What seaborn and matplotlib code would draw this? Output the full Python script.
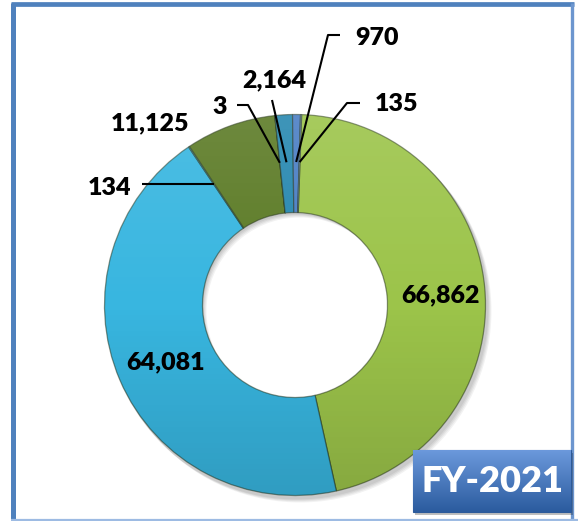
import numpy as np
import matplotlib
matplotlib.use("Agg")
import matplotlib.pyplot as plt
from matplotlib.patches import Wedge, Rectangle
import seaborn as sns

# ---- data ----
values = [66862, 64081, 134, 11125, 3, 2164, 970, 135]
labels = ["66,862", "64,081", "134", "11,125", "3", "2,164", "970", "135"]
colors = ["#9cc44a", "#38b6e0", "#4bacc6", "#5c7b26", "#8064a2",
          "#2788b0", "#4a7ec4", "#7fa7d9"]
badge_text = "FY-2021"

sns.set_style("white")
plt.rcParams['font.family'] = ['Lato', 'DejaVu Sans']

W, H = 578, 521
fig = plt.figure(figsize=(W / 100, H / 100), dpi=100)
ax = fig.add_axes([0, 0, 1, 1])

def Y(y):
    return H - y

cx, cy = 295, Y(305)
R, r_in = 190.5, 92.5

# soft shadow under the ring
for k, a in enumerate([0.06, 0.06, 0.05, 0.05]):
    sh = Wedge((cx + 2 + k, cy - 3 - k), R + 1, 0, 360, width=R - r_in,
               facecolor="black", alpha=a, edgecolor="none", zorder=1)
    ax.add_patch(sh)

wedges, _ = ax.pie(values, colors=colors, startangle=88, counterclock=False,
                   radius=R, center=(cx, cy), frame=True,
                   wedgeprops=dict(width=R - r_in, edgecolor=(0.12, 0.18, 0.08, 0.5),
                                   linewidth=0.9))
for w in wedges:
    w.set_zorder(2)

# gradient overlay (light top, darker bottom) clipped to the ring
ring = Wedge((cx, cy), R, 0, 360, width=R - r_in, facecolor="none",
             edgecolor="none")
ax.add_patch(ring)
grad = np.zeros((256, 2, 4))
t = np.linspace(0, 1, 256)[:, None]
grad[..., :3] = np.where(t[..., None] < 0.5, 1.0, 0.0)
grad[..., 3] = np.where(t < 0.5, (0.5 - t) * 0.22, (t - 0.5) * 0.28)
im = ax.imshow(grad, extent=(cx - R, cx + R, cy - R, cy + R), origin="upper",
               aspect="auto", zorder=3, interpolation="bilinear")
im.set_clip_path(ring)

def wpoint(i, r=143):
    w = wedges[i]
    a = np.deg2rad((w.theta1 + w.theta2) / 2)
    return cx + r * np.cos(a), cy + r * np.sin(a)

fs = 18
tkw = dict(fontsize=fs, fontweight="heavy", color="black", ha="center",
           va="center", zorder=6)

# inside labels
ax.text(440, Y(295), labels[0], **tkw)
ax.text(166, Y(362), labels[1], **tkw)
ax.text(150, Y(123), labels[3], **tkw)

lkw = dict(color="black", lw=1.5, zorder=5, solid_capstyle="butt")

# 134
px, py = wpoint(2, 145)
ax.text(110, Y(188), labels[2], **tkw)
ax.plot([142, px], [py, py], **lkw)

# 3
px, py = wpoint(4)
ax.text(220, Y(107), labels[4], **tkw)
ax.plot([237, 248, px], [Y(105), Y(105), py], **lkw)

# 2,164
px, py = wpoint(5)
ax.text(274, Y(80), labels[5], **tkw)
ax.plot([272, px], [Y(100), py], **lkw)

# 970
px, py = wpoint(6)
ax.text(377, Y(38), labels[6], **tkw)
ax.plot([340, 328, px], [Y(35), Y(35), py], **lkw)

# 135
px, py = wpoint(7)
ax.text(397, Y(104), labels[7], **tkw)
ax.plot([360, 347, px], [Y(103), Y(103), py], **lkw)

# frame lines
ax.plot([13, 13], [Y(3), Y(521)], color="#4f81bd", lw=3.6, zorder=7,
        solid_capstyle="butt")
ax.plot([11, 574], [Y(4), Y(4)], color="#4f81bd", lw=3.4, zorder=7,
        solid_capstyle="butt")
ax.plot([572, 572], [Y(3), Y(521)], color="#6d96cf", lw=2.4, zorder=7,
        solid_capstyle="butt")
ax.plot([11, 578], [Y(520), Y(520)], color="#9dbbe3", lw=1.6, zorder=7,
        solid_capstyle="butt")

# badge
bx0, bx1, by0, by1 = 413, 571, 450, 512
shadow = Rectangle((bx0 + 2, Y(by1) - 3), bx1 - bx0, by1 - by0,
                   facecolor="black", alpha=0.25, edgecolor="none", zorder=7)
ax.add_patch(shadow)
box = Rectangle((bx0, Y(by1)), bx1 - bx0, by1 - by0, facecolor="#3d6fb8",
                edgecolor="#2c5a9a", lw=0.8, zorder=8)
ax.add_patch(box)
bg = np.zeros((64, 2, 3))
tt = np.linspace(0, 1, 64)[:, None]
top = np.array([0.42, 0.6, 0.86])
bot = np.array([0.17, 0.36, 0.62])
bg[:] = (top * (1 - tt[..., None]) + bot * tt[..., None])
bim = ax.imshow(bg, extent=(bx0, bx1, Y(by1), Y(by0)), origin="upper",
                aspect="auto", zorder=8.5, interpolation="bilinear")
bim.set_clip_path(box)
ax.text((bx0 + bx1) / 2, Y(482), badge_text, fontsize=26, fontweight="heavy",
        color="white", ha="center", va="center", zorder=9)

ax.set_xlim(0, W)
ax.set_ylim(0, H)
ax.set_aspect("auto")
ax.axis("off")
fig.savefig("out.png", dpi=100, facecolor="white")
